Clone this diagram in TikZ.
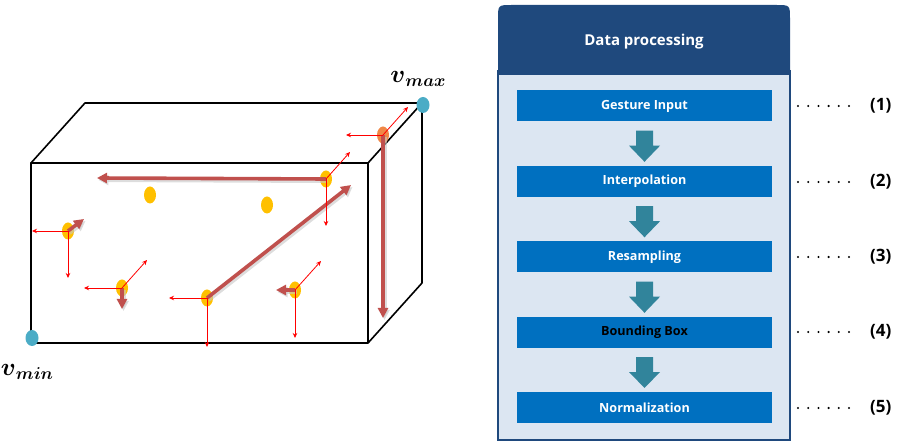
\documentclass[tikz,border=0pt]{standalone}
\usepackage{fontspec}
\newfontfamily\uifont{Open Sans}
\usetikzlibrary{arrows.meta,calc,shapes.geometric}

\definecolor{hdrblue}{RGB}{31,73,125}
\definecolor{panelbg}{RGB}{220,230,242}
\definecolor{stepblue}{RGB}{0,112,192}
\definecolor{flowteal}{RGB}{49,132,155}
\definecolor{gold}{RGB}{255,192,0}
\definecolor{tangerine}{RGB}{240,135,70}
\definecolor{cornerblue}{RGB}{75,172,198}
\definecolor{trail}{RGB}{192,80,77}

% corner label: large v with a large italic subscript
\newcommand{\cornerlabel}[1]{{\fontsize{23}{26}\selectfont\boldmath$v$}\raisebox{-4.5pt}{\fontsize{16.5}{18}\selectfont\boldmath$#1$}}

\tikzset{
  edge/.style={line width=1.6pt, black, line join=round},
  gdot/.style={ellipse, fill=gold, minimum width=12pt, minimum height=17pt, inner sep=0pt},
  odot/.style={gdot, fill=tangerine},
  cdot/.style={ellipse, fill=cornerblue, minimum width=13pt, minimum height=16pt, inner sep=0pt},
  axis/.style={red, line width=0.8pt, -{Stealth[length=5pt,width=4.5pt]}},
  trailshadow/.style={gray!45, opacity=0.6, line width=4pt, -{Triangle[length=10pt,width=10pt]}},
  trailarrow/.style={trail, line width=3.6pt, -{Triangle[length=10pt,width=10pt]}},
  vlabel/.style={inner sep=0pt},
  stepbox/.style={fill=stepblue, minimum width=255pt, minimum height=31pt, inner sep=0pt,
    text=white, font=\uifont\bfseries\fontsize{12.6}{14}\selectfont},
  numlabel/.style={anchor=west, inner sep=0pt, font=\uifont\bfseries\fontsize{17}{19}\selectfont},
  leader/.style={line width=2.3pt, line cap=round, dash pattern=on 0pt off 10.2pt},
  flowarrow/.style={fill=flowteal, to path={
    ($(\tikztostart.south)+(-8.5,9)$) -- ($(\tikztostart.south)+(8.5,9)$) --
    ($(\tikztostart.south)+(8.5,24)$) -- ($(\tikztostart.south)+(15.5,24)$) --
    ($(\tikztotarget.north)+(0,-4)$) -- ($(\tikztostart.south)+(-15.5,24)$) --
    ($(\tikztostart.south)+(-8.5,24)$) -- cycle}}
}

\begin{document}
\begin{tikzpicture}[x=1pt,y=-1pt]
\useasboundingbox (0,0) rectangle (900,443);

% ---------- box with gesture trajectory ----------
\draw[edge] (31,163) rectangle (368,343);
\draw[edge] (31,163) -- (85,103) -- (422,103) -- (422,283) -- (368,343);
\draw[edge] (368,163) -- (422,103);

\node[cdot] (vmin) at (32,338) {};
\node[cdot] (vmax) at (423,105) {};
\node[vlabel] (vmaxlbl) at (418,79) {\cornerlabel{max}};
\node[vlabel] (vminlbl) at (27,372) {\cornerlabel{min}};

% sample points
\node[gdot] (q1) at (150,195) {};
\node[gdot] (q2) at (267,205) {};
\node[gdot] (pa) at (326,179) {};
\node[gdot] (pb) at (68,231) {};
\node[gdot] (pc) at (122,288) {};
\node[gdot] (pd) at (207,298) {};
\node[gdot] (pe) at (295,290) {};
\node[odot] (pf) at (383,135) {};

% free ends of the motion vectors
\coordinate (ta) at (97,178);
\coordinate (td) at (351,185);
\coordinate (tf) at (383,318);
\coordinate (tb) at (84,219);
\coordinate (tc) at (122,309);
\coordinate (te) at (276,290);

% trajectory (thick arrows with shadow)
\foreach \s/\t in {pa/ta, pd/td, pf/tf, pb/tb, pc/tc, pe/te}{
  \draw[trailshadow] ($(\s.center)+(1.5,2)$) -- ($(\t)+(1.5,2)$);
}
\foreach \s/\t in {pa/ta, pd/td, pf/tf, pb/tb, pc/tc, pe/te}{
  \draw[trailarrow] (\s.center) -- (\t);
}

% local axes at each point
\coordinate (a1) at (350,152);  \coordinate (a2) at (326,226);
\coordinate (f1) at (408,107);  \coordinate (f2) at (346,135);
\coordinate (b1) at (32,231);   \coordinate (b2) at (68,278);
\coordinate (c1) at (84,288);   \coordinate (c2) at (147,260);
\coordinate (d1) at (169,298);  \coordinate (d2) at (207,347);
\coordinate (e1) at (321,261);  \coordinate (e2) at (295,338);
\foreach \s/\t in {pa/a1, pa/a2, pf/f1, pf/f2, pb/b1, pb/b2, pc/c1, pc/c2, pd/d1, pd/d2, pe/e1, pe/e2}{
  \draw[axis] (\s.center) -- (\t);
}

% ---------- processing pipeline ----------
\fill[panelbg] (498,70) rectangle (790,440);
\fill[hdrblue] (498,75) -- (498,19) .. controls (498,5) .. (512,5) -- (776,5)
  .. controls (790,5) .. (790,19) -- (790,75) -- cycle;
\draw[hdrblue, line width=2pt] (498,70) -- (498,440) -- (790,440) -- (790,70);
\node[text=white, font=\uifont\bfseries\fontsize{15}{17}\selectfont] (title) at (644,42) {Data processing};

\node[stepbox] (s1) at (644.5,106)   {Gesture Input};
\node[stepbox] (s2) at (644.5,181.5) {Interpolation};
\node[stepbox] (s3) at (644.5,257)   {Resampling};
\node[stepbox, text=black] (s4) at (644.5,332.5) {Bounding Box};
\node[stepbox] (s5) at (644.5,407.5) {Normalization};

\path[flowarrow] (s1) to (s2);
\path[flowarrow] (s2) to (s3);
\path[flowarrow] (s3) to (s4);
\path[flowarrow] (s4) to (s5);

% step numbers with dotted leaders
\foreach \i/\y in {1/106, 2/182, 3/257, 4/332, 5/408}{
  \node[numlabel] (n\i) at (870,\y) {(\i)};
  \coordinate (l\i) at (798,\y);
  \draw[leader] (l\i) -- ($(n\i.west)+(-19,0)$);
}
\end{tikzpicture}
\end{document}
